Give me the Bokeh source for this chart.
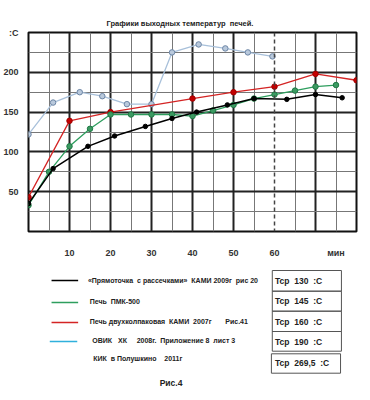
from bokeh.plotting import figure
from bokeh.layouts import column
from bokeh.models import Range1d, FixedTicker, Span
from bokeh.embed import file_html
from bokeh.resources import INLINE
from bokeh.core.properties import value

FONT = "Liberation Sans"

# ---------------- data ----------------
title_text = "Графики выходных температур  печей."
y_unit = ":С"
x_ticks = [10, 20, 30, 40, 50, 60, 75]
x_tick_overrides = {75: "мин"}
y_ticks = [50, 100, 150, 200, 250]
y_tick_overrides = {250: y_unit}

blue_x = [0, 6, 12.5, 18, 24, 30, 35, 41.5, 48, 53.5, 59.5]
blue_y = [122, 162, 175, 170, 160, 160, 225, 235, 230, 225, 220]

red_x = [0, 10, 20, 40, 50, 60, 70, 80]
red_y = [43, 139, 150, 167, 175, 182, 198, 190]

green_x = [0, 5, 10, 15, 20, 25, 30, 35, 40, 45, 50, 55, 60, 65, 70, 75]
green_y = [33, 75, 107, 129, 147, 147, 147, 147, 145, 152, 159, 167, 172, 177, 182, 184]

black_x = [0, 6, 14.5, 21, 28.5, 35, 41, 48.5, 55, 63, 70, 76.5]
black_y = [35, 79, 107, 120, 132, 142, 150, 159, 167, 166, 172, 168]

legend_labels = [
    "«Прямоточка  с рассечками»  КАМИ 2009г  рис 20",
    "Печь  ПМК-500",
    "Печь двухколпаковая  КАМИ  2007г",
    "ОВИК   ХК     2008г.  Приложение 8  лист 3",
]
legend_colors = ["#000000", "#2e9e5e", "#d42424", "#2fb0dc"]
extra_note = "Рис.41"
extra_label = "КИК  в Полушкино    2011г"
figure_caption = "Рис.4"
avg_temps = ["130", "145", "160", "190", "269,5"]


def nb(s):
    return s.replace(" ", "\u00a0")


# ---------------- top chart ----------------
p = figure(width=370, height=260, x_range=Range1d(0, 80), y_range=Range1d(0, 250),
           output_backend="svg", toolbar_location=None,
           min_border_left=26, min_border_right=14, min_border_top=32, min_border_bottom=23)
p.background_fill_color = "white"
p.border_fill_color = "white"
p.outline_line_color = "#111111"
p.outline_line_width = 2
p.outline_line_alpha = 1

p.title.text = nb(title_text)
p.title.align = "left"
p.title.offset = 78
p.title.text_font = FONT
p.title.text_font_size = "7.5px"
p.title.text_font_style = "bold"
p.title.text_color = "#222222"
p.title.standoff = 10

for ax in (p.xaxis[0], p.yaxis[0]):
    ax.axis_line_color = None
    ax.major_tick_line_color = None
    ax.minor_tick_line_color = None
    ax.major_label_text_font = FONT
    ax.major_label_text_font_style = "bold"
    ax.major_label_text_font_size = "9px"
    ax.major_label_text_color = "#333333"

p.xaxis.ticker = FixedTicker(ticks=x_ticks)
p.xaxis.major_label_overrides = x_tick_overrides
p.xaxis.major_label_standoff = 10
p.yaxis.ticker = FixedTicker(ticks=y_ticks)
p.yaxis.major_label_overrides = y_tick_overrides
p.yaxis.major_label_standoff = 4

p.xgrid.ticker = FixedTicker(ticks=[10, 20, 30, 40, 50, 70],
                             minor_ticks=[5, 15, 25, 35, 45, 55, 65, 75])
p.ygrid.ticker = FixedTicker(ticks=[50, 100, 150, 200],
                             minor_ticks=[25, 75, 125, 175, 225])
for g in (p.xgrid[0], p.ygrid[0]):
    g.grid_line_color = "#222222"
    g.grid_line_width = 2
    g.minor_grid_line_color = "#777777"
    g.minor_grid_line_width = 1

p.add_layout(Span(location=60, dimension="height", line_color="#444444",
                  line_dash="4 3", line_width=1.5))

p.line(blue_x, blue_y, line_color="#a8c0da", line_width=1.3)
p.scatter(blue_x, blue_y, size=5.5, fill_color="#b9c9dc", line_color="#6d86a6", line_width=1)

p.line(red_x, red_y, line_color="#d42424", line_width=1.3)
p.scatter(red_x, red_y, size=5.5, fill_color="#c40000", line_color="#a00000", line_width=1)

p.line(green_x, green_y, line_color="#2e9e5e", line_width=1.3)
p.scatter(green_x, green_y, size=5.5, fill_color="#3c9a62", line_color="#1f7a45", line_width=1)

p.line(black_x, black_y, line_color="#000000", line_width=1.5)
p.scatter(black_x, black_y, size=4.5, fill_color="#000000", line_color="#000000")

# ---------------- bottom legend / table ----------------
q = figure(width=370, height=140, x_range=Range1d(0, 370), y_range=Range1d(140, 0),
           output_backend="svg", toolbar_location=None, min_border=0)
q.axis.visible = False
q.grid.visible = False
q.outline_line_color = None
q.background_fill_color = "white"
q.border_fill_color = "white"

q.segment(x0=[26, 26, 26, 24], x1=[56, 56, 56, 55], y0=[20, 42, 62, 81], y1=[20, 42, 62, 81],
          line_color=legend_colors, line_width=1.5)
q.text(x=[67, 69, 69, 72], y=[20, 41, 61, 80], text=[nb(s) for s in legend_labels],
       text_font=value(FONT), text_font_size="7px", text_font_style="bold",
       text_color="#222222", text_baseline="middle", text_align="left")
q.text(x=[222, 73], y=[61, 98], text=[nb(extra_note), nb(extra_label)],
       text_font=value(FONT), text_font_size="7px", text_font_style="bold",
       text_color="#222222", text_baseline="middle", text_align="left")
q.text(x=[148], y=[122], text=[figure_caption],
       text_font=value(FONT), text_font_size="8.5px", text_font_style="bold",
       text_color="#222222", text_baseline="middle", text_align="left")

q.quad(left=[275, 275, 275, 275, 274], right=[353, 353, 353, 353, 352],
       top=[10, 30.7, 50.7, 71, 93.3], bottom=[30.7, 50.7, 71, 90.7, 112.7],
       fill_color=None, line_color="#555555", line_width=1)
q.text(x=[278] * 5, y=[20, 40.7, 61, 81, 102],
       text=[nb("Тср  " + t + "  :С") for t in avg_temps],
       text_font=value(FONT), text_font_size="8.5px", text_font_style="bold",
       text_color="#222222", text_baseline="middle", text_align="left")

layout = column(p, q, spacing=0)
open("out.html", "w").write(file_html(layout, INLINE))
